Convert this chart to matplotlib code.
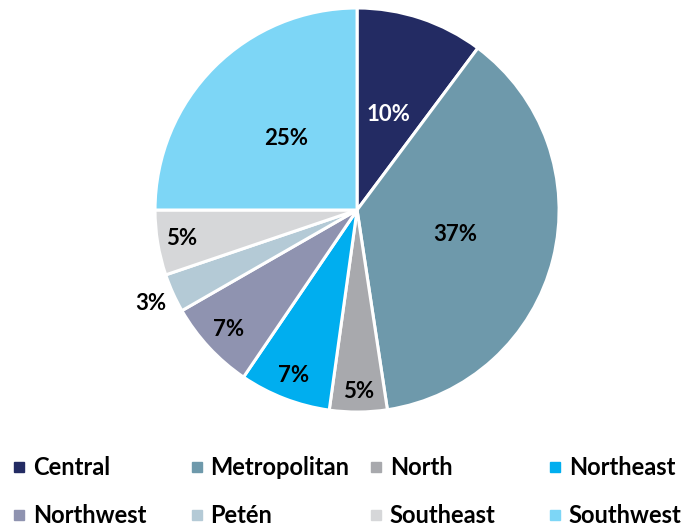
import numpy as np
import matplotlib.pyplot as plt
from matplotlib.patches import Rectangle

plt.rcParams['font.family'] = ['Lato', 'DejaVu Sans']
plt.rcParams['font.weight'] = 'bold'

# Share of total by region (%)
regions = ["Central", "Metropolitan", "North", "Northeast",
           "Northwest", "Petén", "Southeast", "Southwest"]
shares = [10.2, 37.4, 4.6, 7.3, 7.2, 3.1, 5.2, 25.0]
colors = ["#232B63", "#6E99AB", "#A8A9AD", "#00AEEF",
          "#8F93B0", "#B4CAD6", "#D6D7D9", "#7DD6F6"]
# radial position of each percentage label (fraction of radius)
label_r = [0.5, 0.5, 0.9, 0.88, 0.87, 1.12, 0.88, 0.5]

fig = plt.figure(figsize=(6.86, 5.29), dpi=100)
ax = fig.add_axes([0.226, 0.221, 0.589, 0.764])

wedges, texts, autotexts = ax.pie(
    shares, colors=colors, startangle=90, counterclock=False,
    autopct=lambda p: f"{p:.0f}%", pctdistance=0.5,
    wedgeprops=dict(edgecolor="white", linewidth=2.2),
    textprops=dict(fontsize=16, fontweight="bold", color="black"))
ax.set_xlim(-1, 1)
ax.set_ylim(-1, 1)
ax.set_aspect("equal")

autotexts[0].set_color("white")

for w, t, r in zip(wedges, autotexts, label_r):
    mid = np.deg2rad((w.theta1 + w.theta2) / 2)
    t.set_position((r * np.cos(mid), r * np.sin(mid)))

# legend laid out in equal columns, two rows
col_x = [0.021, 0.280, 0.541, 0.802]
row_y = [0.117, 0.026]
for i, (name, c) in enumerate(zip(regions, colors)):
    x = col_x[i % 4]
    y = row_y[i // 4]
    fig.patches.append(Rectangle((x, y - 0.0095), 0.0146, 0.019,
                                 transform=fig.transFigure, color=c))
    fig.text(x + 0.027, y, name, fontsize=17, fontweight="bold",
             va="center", ha="left")

fig.savefig("out.png", dpi=100)
